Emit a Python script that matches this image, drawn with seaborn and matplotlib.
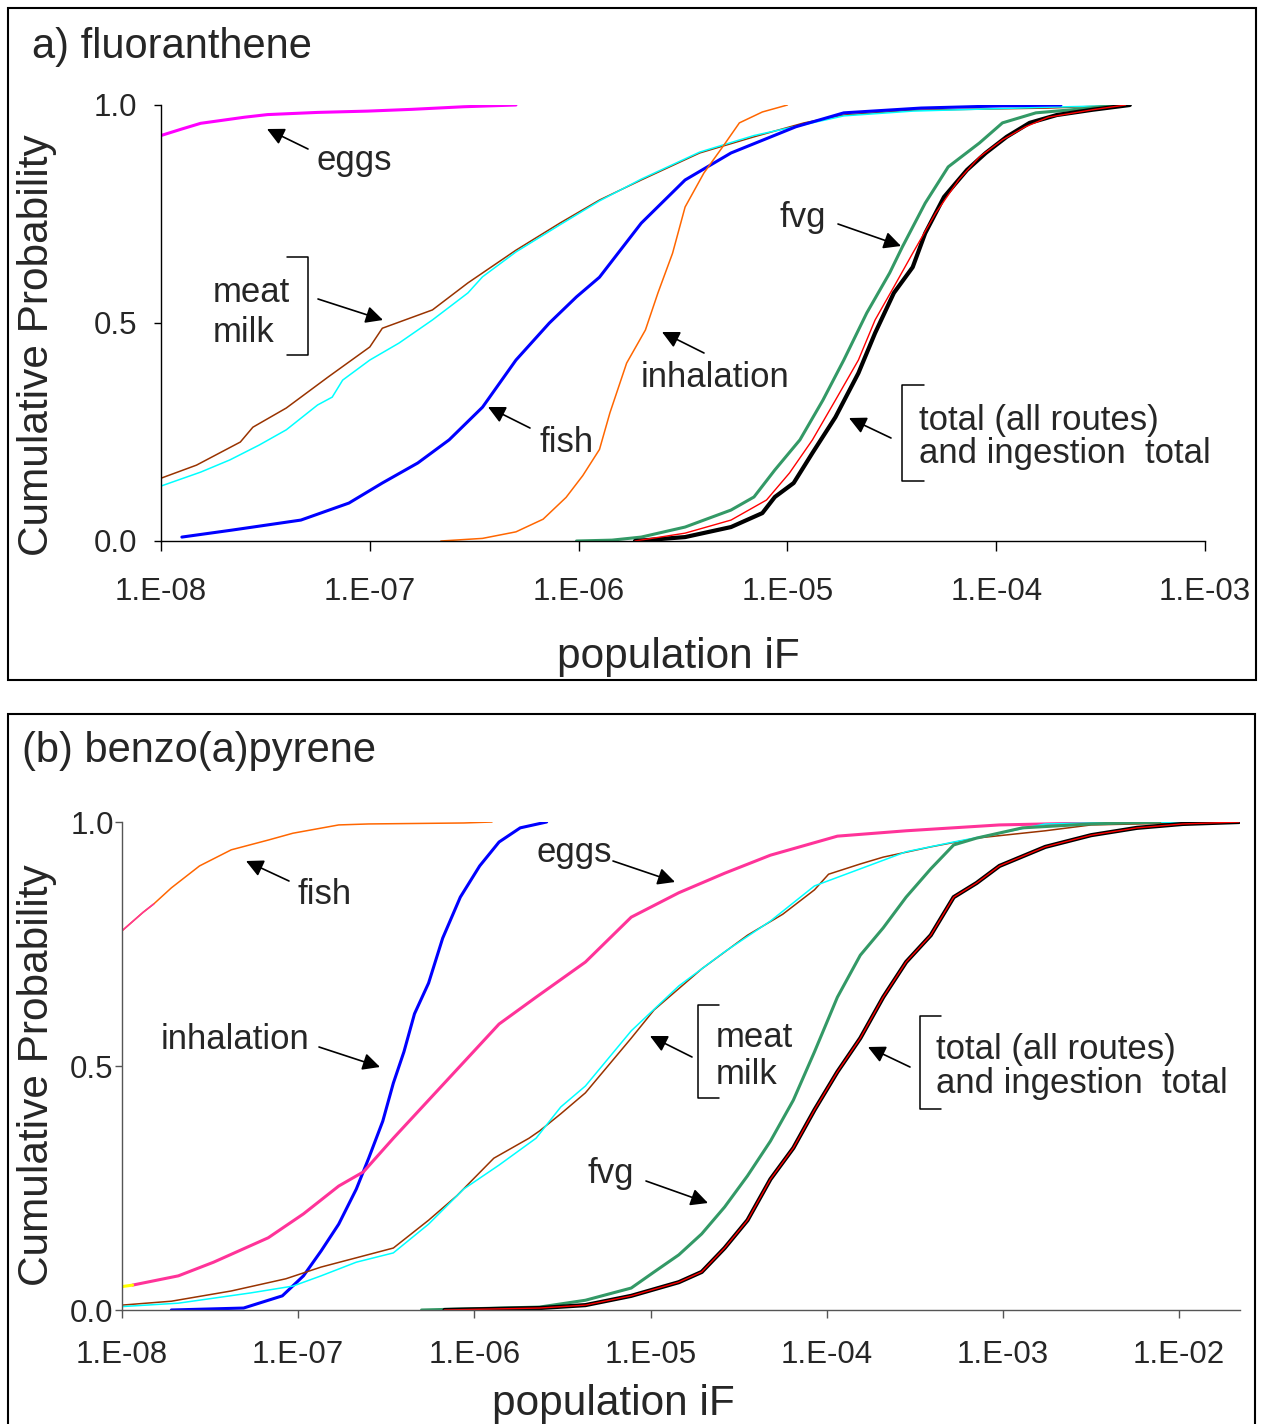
import numpy as np
import matplotlib
matplotlib.use('Agg')
import matplotlib.pyplot as plt
from matplotlib.lines import Line2D
from matplotlib.patches import Rectangle
from matplotlib.ticker import FixedLocator, NullLocator
import seaborn as sns

# ------------------------------
# Данные: log10(iF) и кумулятивная вероятность
# ------------------------------
# (a) fluoranthene
a_eggs_log = [-8.00, -7.90, -7.81, -7.60, -7.49, -7.25, -7.01, -6.80, -6.55, -6.30]
a_eggs_p = [0.930, 0.945, 0.958, 0.972, 0.978, 0.983, 0.986, 0.990, 0.996, 1.000]

a_meat_log = [-8.00, -7.83, -7.62, -7.56, -7.40, -7.20, -7.00, -6.94, -6.70, -6.53, -6.30,
              -6.09, -5.90, -5.70, -5.42, -5.16, -4.92, -4.73, -4.40, -3.75, -3.47, -3.38]
a_meat_p = [0.144, 0.174, 0.227, 0.261, 0.305, 0.376, 0.445, 0.488, 0.530, 0.592, 0.667,
            0.729, 0.782, 0.828, 0.890, 0.927, 0.959, 0.977, 0.988, 0.993, 0.998, 1.000]

a_milk_log = [-8.00, -7.81, -7.67, -7.53, -7.40, -7.25, -7.18, -7.13, -7.00, -6.86, -6.70, -6.53,
              -6.46, -6.30, -6.09, -5.90, -5.70, -5.42, -5.16, -4.92, -4.73, -4.40, -3.75, -3.47, -3.38]
a_milk_p = [0.126, 0.158, 0.186, 0.220, 0.255, 0.312, 0.330, 0.369, 0.415, 0.454, 0.507, 0.569,
            0.606, 0.663, 0.725, 0.780, 0.830, 0.892, 0.930, 0.955, 0.975, 0.986, 0.995, 0.998, 1.000]

a_fish_log = [-7.90, -7.66, -7.33, -7.10, -6.94, -6.77, -6.62, -6.46, -6.30, -6.14,
              -6.01, -5.90, -5.70, -5.49, -5.27, -4.96, -4.73, -4.36, -3.97, -3.69]
a_fish_p = [0.009, 0.025, 0.048, 0.087, 0.133, 0.179, 0.232, 0.307, 0.415, 0.500,
            0.560, 0.605, 0.729, 0.828, 0.890, 0.950, 0.982, 0.993, 0.998, 1.000]

a_inhal_log = [-6.66, -6.46, -6.30, -6.17, -6.06, -5.98, -5.90, -5.85, -5.77,
               -5.68, -5.62, -5.55, -5.49, -5.40, -5.31, -5.23, -5.12, -5.00]
a_inhal_p = [0.000, 0.006, 0.021, 0.050, 0.100, 0.150, 0.210, 0.294, 0.408,
             0.484, 0.569, 0.660, 0.766, 0.844, 0.904, 0.959, 0.984, 1.000]

a_fvg_log = [-6.01, -5.84, -5.70, -5.49, -5.27, -5.16, -5.06, -4.94, -4.83, -4.73, -4.62,
             -4.51, -4.45, -4.34, -4.23, -4.08, -3.97, -3.81, -3.64, -3.45, -3.38]
a_fvg_p = [0.000, 0.002, 0.009, 0.032, 0.071, 0.101, 0.163, 0.232, 0.323, 0.415, 0.523,
           0.615, 0.674, 0.775, 0.858, 0.913, 0.959, 0.982, 0.989, 0.998, 1.000]

a_ingest_log = [-5.73, -5.49, -5.27, -5.10, -4.99, -4.88, -4.77, -4.66, -4.58, -4.49,
                -4.40, -4.29, -4.18, -4.08, -3.97, -3.86, -3.75, -3.54, -3.38]
a_ingest_p = [0.000, 0.018, 0.048, 0.094, 0.156, 0.232, 0.323, 0.415, 0.507, 0.583,
              0.660, 0.752, 0.828, 0.881, 0.920, 0.950, 0.972, 0.989, 1.000]

a_total_log = [-5.73, -5.49, -5.27, -5.12, -5.06, -4.97, -4.88, -4.77, -4.66, -4.58, -4.49,
               -4.40, -4.34, -4.25, -4.14, -4.05, -3.95, -3.84, -3.71, -3.54, -3.36]
a_total_p = [0.000, 0.009, 0.032, 0.064, 0.101, 0.133, 0.202, 0.284, 0.385, 0.477, 0.569,
             0.628, 0.706, 0.789, 0.851, 0.890, 0.927, 0.959, 0.977, 0.989, 1.000]

# (b) benzo(a)pyrene
b_fish_log = [-8.00, -7.88, -7.82, -7.72, -7.56, -7.38, -7.17, -7.03, -6.77, -6.60, -6.06, -5.90]
b_fish_p = [0.777, 0.815, 0.832, 0.865, 0.910, 0.943, 0.963, 0.977, 0.994, 0.996, 0.998, 1.000]
b_fish_start_log = [-8.00, -7.88, -7.82]     # начало линии нарисовано розовым
b_fish_start_p = [0.777, 0.815, 0.832]

b_inhal_log = [-7.72, -7.31, -7.09, -6.97, -6.87, -6.77, -6.67, -6.60, -6.52, -6.46,
               -6.40, -6.34, -6.26, -6.18, -6.08, -5.97, -5.86, -5.74, -5.59]
b_inhal_p = [0.000, 0.004, 0.029, 0.070, 0.121, 0.176, 0.248, 0.311, 0.387, 0.465,
             0.529, 0.607, 0.670, 0.762, 0.846, 0.910, 0.959, 0.988, 1.000]

b_eggs_log = [-7.94, -7.68, -7.48, -7.17, -6.97, -6.77, -6.63, -6.46, -6.26, -6.06, -5.86,
              -5.65, -5.37, -5.11, -4.84, -4.58, -4.32, -3.94, -3.55, -3.02, -2.50, -2.06]
b_eggs_p = [0.051, 0.070, 0.098, 0.148, 0.197, 0.254, 0.283, 0.352, 0.430, 0.508, 0.586,
            0.641, 0.713, 0.805, 0.855, 0.895, 0.932, 0.971, 0.982, 0.994, 0.998, 1.000]
b_eggs_start_log = [-8.00, -7.94]             # жёлтый кусочек в начале
b_eggs_start_p = [0.048, 0.051]

b_meat_log = [-8.00, -7.72, -7.38, -7.07, -6.87, -6.67, -6.46, -6.26, -6.10, -5.89, -5.69,
              -5.63, -5.51, -5.37, -5.11, -4.98, -4.71, -4.45, -4.25, -4.07, -3.99, -3.81,
              -3.68, -3.41, -3.15, -2.76, -2.50, -1.98, -1.66]
b_meat_p = [0.010, 0.018, 0.039, 0.064, 0.088, 0.107, 0.127, 0.184, 0.234, 0.311, 0.352,
            0.367, 0.402, 0.445, 0.557, 0.615, 0.699, 0.768, 0.811, 0.861, 0.893, 0.914,
            0.928, 0.949, 0.967, 0.982, 0.994, 0.998, 1.000]

b_milk_log = [-8.00, -7.68, -7.27, -7.03, -6.87, -6.67, -6.46, -6.26, -6.06, -5.86, -5.65, -5.51,
              -5.37, -5.11, -4.84, -4.58, -4.32, -4.07, -3.81, -3.55, -3.28, -3.02, -2.76, -2.50, -1.98]
b_milk_p = [0.007, 0.014, 0.035, 0.049, 0.070, 0.098, 0.117, 0.176, 0.248, 0.297, 0.352, 0.416,
            0.459, 0.572, 0.664, 0.734, 0.797, 0.869, 0.904, 0.939, 0.959, 0.977, 0.996, 0.998, 1.000]

b_fvg_log = [-6.30, -5.63, -5.37, -5.11, -4.98, -4.84, -4.71, -4.58, -4.45, -4.32, -4.19,
             -4.07, -3.94, -3.81, -3.68, -3.55, -3.41, -3.28, -3.15, -2.89, -2.50, -2.11]
b_fvg_p = [0.000, 0.006, 0.020, 0.045, 0.078, 0.113, 0.156, 0.211, 0.275, 0.346, 0.430,
           0.529, 0.641, 0.727, 0.783, 0.846, 0.904, 0.953, 0.967, 0.988, 0.996, 1.000]

b_total_log = [-6.17, -5.63, -5.37, -5.11, -4.84, -4.71, -4.58, -4.45, -4.32, -4.19, -4.07, -3.94,
               -3.81, -3.68, -3.55, -3.41, -3.28, -3.15, -3.02, -2.76, -2.50, -2.24, -1.98, -1.66]
b_total_p = [0.000, 0.004, 0.010, 0.029, 0.057, 0.078, 0.127, 0.184, 0.268, 0.332, 0.410, 0.488,
             0.557, 0.641, 0.713, 0.768, 0.846, 0.875, 0.910, 0.949, 0.973, 0.988, 0.996, 1.000]
# ingestion total совпадает с total на этом графике
b_ingest_log = b_total_log
b_ingest_p = b_total_p

xtick_vals_a = [1e-8, 1e-7, 1e-6, 1e-5, 1e-4, 1e-3]
xtick_lbls_a = ['1.E-08', '1.E-07', '1.E-06', '1.E-05', '1.E-04', '1.E-03']
xtick_vals_b = [1e-8, 1e-7, 1e-6, 1e-5, 1e-4, 1e-3, 1e-2]
xtick_lbls_b = ['1.E-08', '1.E-07', '1.E-06', '1.E-05', '1.E-04', '1.E-03', '1.E-02']
ytick_vals = [0.0, 0.5, 1.0]
ytick_lbls = ['0.0', '0.5', '1.0']

# ------------------------------
# Оформление
# ------------------------------
sns.set_style('white')
plt.rcParams['font.family'] = ['Liberation Sans', 'DejaVu Sans']

W, H = 1266, 1424
fig = plt.figure(figsize=(W / 100, H / 100), dpi=100)
fig.patch.set_facecolor('white')


def fx(x):
    return x / W


def fy(y):
    return 1 - y / H


def curve(ax, logs, ps, color, lw):
    sns.lineplot(x=10 ** np.array(logs), y=ps, ax=ax, color=color, linewidth=lw,
                 estimator=None, sort=False, legend=False)


def setup_axes(ax, xmax, xt, xl, tick_len, ylab_pad, xlab_pad, spine_color):
    ax.set_xscale('log')
    ax.set_xlim(1e-8, xmax)
    ax.set_ylim(0, 1)
    ax.xaxis.set_major_locator(FixedLocator(xt))
    ax.xaxis.set_minor_locator(NullLocator())
    ax.set_xticklabels(xl)
    ax.set_yticks(ytick_vals)
    ax.set_yticklabels(ytick_lbls)
    for s in ['top', 'right']:
        ax.spines[s].set_visible(False)
    for s in ['left', 'bottom']:
        ax.spines[s].set_color(spine_color)
        ax.spines[s].set_linewidth(1.0)
    ax.tick_params(axis='x', direction='out', length=tick_len, width=1, color=spine_color,
                   labelsize=22.5, pad=xlab_pad, bottom=True)
    ax.tick_params(axis='y', direction='out', length=5, width=1, color=spine_color,
                   labelsize=22.5, pad=ylab_pad, left=True)
    ax.set_facecolor('none')
    ax.grid(False)
    ax.set_xlabel('')
    ax.set_ylabel('')


def arrow(tip, tail):
    fig.add_artist(matplotlib.patches.FancyArrowPatch(
        (fx(tail[0]), fy(tail[1])), (fx(tip[0]), fy(tip[1])),
        transform=fig.transFigure, arrowstyle='-|>', mutation_scale=26,
        color='black', lw=1.2, shrinkA=0, shrinkB=0))


def bracket(xs, ys):
    fig.add_artist(Line2D([fx(v) for v in xs], [fy(v) for v in ys],
                          color='black', lw=1.1, transform=fig.transFigure))


def label(x, y, s, size=25):
    fig.text(fx(x), fy(y), s, fontsize=size, ha='left', va='baseline')


# ------------------------------
# (a) fluoranthene
# ------------------------------
fig.add_artist(Rectangle((fx(8), fy(680)), (1256 - 8) / W, (680 - 8) / H,
                         transform=fig.transFigure, fill=False, ec='black', lw=1.5))
ax_a = fig.add_axes([fx(161), fy(541), (1205 - 161) / W, (541 - 105) / H])
curve(ax_a, a_eggs_log, a_eggs_p, '#FF00FF', 2.2)
curve(ax_a, a_meat_log, a_meat_p, '#993300', 1.1)
curve(ax_a, a_milk_log, a_milk_p, '#00FFFF', 1.1)
curve(ax_a, a_fish_log, a_fish_p, '#0000FF', 2.2)
curve(ax_a, a_inhal_log, a_inhal_p, '#FF6600', 1.1)
curve(ax_a, a_fvg_log, a_fvg_p, '#339966', 2.2)
curve(ax_a, a_total_log, a_total_p, '#000000', 3.0)
curve(ax_a, a_ingest_log, a_ingest_p, '#FF0000', 1.0)
setup_axes(ax_a, 1e-3, xtick_vals_a, xtick_lbls_a, 7.2, 12, 18.5, '#000000')

fig.text(fx(32), fy(58), 'a) fluoranthene', fontsize=30, ha='left', va='baseline')
fig.text(fx(678), fy(668), 'population iF', fontsize=30.5, ha='center', va='baseline')
fig.text(fx(37), fy(345), 'Cumulative Probability', fontsize=30.5, rotation=90,
         ha='center', va='center')

label(316, 170, 'eggs')
arrow((267, 129), (308, 149))
label(213, 302, 'meat')
label(213, 342, 'milk')
bracket([287, 308, 308, 287], [257, 257, 355, 355])
arrow((383, 320), (318, 299))
label(539, 452, 'fish')
arrow((488, 407), (530, 428))
label(780, 227, 'fvg')
arrow((901, 246), (838, 224))
label(641, 387, 'inhalation')
arrow((662, 332), (704, 353))
bracket([924, 902, 902, 924], [385, 385, 481, 481])
label(919, 430, 'total (all routes)')
label(919, 463, 'and ingestion  total')
arrow((849, 418), (891, 438))

# ------------------------------
# (b) benzo(a)pyrene
# ------------------------------
fig.add_artist(Rectangle((fx(8), fy(1440)), (1255 - 8) / W, (1440 - 714) / H,
                         transform=fig.transFigure, fill=False, ec='black', lw=1.5))
ax_b = fig.add_axes([fx(122), fy(1310), (1240 - 122) / W, (1310 - 822) / H])
curve(ax_b, b_fish_log, b_fish_p, '#FF6600', 1.1)
curve(ax_b, b_fish_start_log, b_fish_start_p, '#FF3399', 1.1)
curve(ax_b, b_inhal_log, b_inhal_p, '#0000FF', 2.2)
curve(ax_b, b_eggs_log, b_eggs_p, '#FF3399', 2.2)
curve(ax_b, b_eggs_start_log, b_eggs_start_p, '#FFFF00', 2.2)
curve(ax_b, b_meat_log, b_meat_p, '#993300', 1.1)
curve(ax_b, b_milk_log, b_milk_p, '#00FFFF', 1.1)
curve(ax_b, b_fvg_log, b_fvg_p, '#339966', 2.2)
curve(ax_b, b_total_log, b_total_p, '#000000', 3.0)
curve(ax_b, b_ingest_log, b_ingest_p, '#FF0000', 1.0)
setup_axes(ax_b, 10 ** (-1.655), xtick_vals_b, xtick_lbls_b, 5.8, 1, 16, '#555555')

fig.text(fx(22), fy(762), '(b) benzo(a)pyrene', fontsize=30, ha='left', va='baseline')
fig.text(fx(613), fy(1415), 'population iF', fontsize=30.5, ha='center', va='baseline')
fig.text(fx(37), fy(1075), 'Cumulative Probability', fontsize=30.5, rotation=90,
         ha='center', va='center')

label(298, 904, 'fish')
arrow((246, 861), (289, 881))
label(161, 1049, 'inhalation')
arrow((380, 1067), (319, 1047))
label(537, 862, 'eggs')
arrow((675, 882), (613, 861))
bracket([719, 698, 698, 719], [1005, 1005, 1098, 1098])
label(716, 1047, 'meat')
label(716, 1084, 'milk')
arrow((650, 1036), (692, 1057))
label(588, 1183, 'fvg')
arrow((708, 1203), (646, 1181))
bracket([941, 920, 920, 941], [1016, 1016, 1109, 1109])
label(936, 1059, 'total (all routes)')
label(936, 1093, 'and ingestion  total')
arrow((868, 1047), (910, 1067))

fig.savefig('out.png', dpi=100, facecolor='white')
